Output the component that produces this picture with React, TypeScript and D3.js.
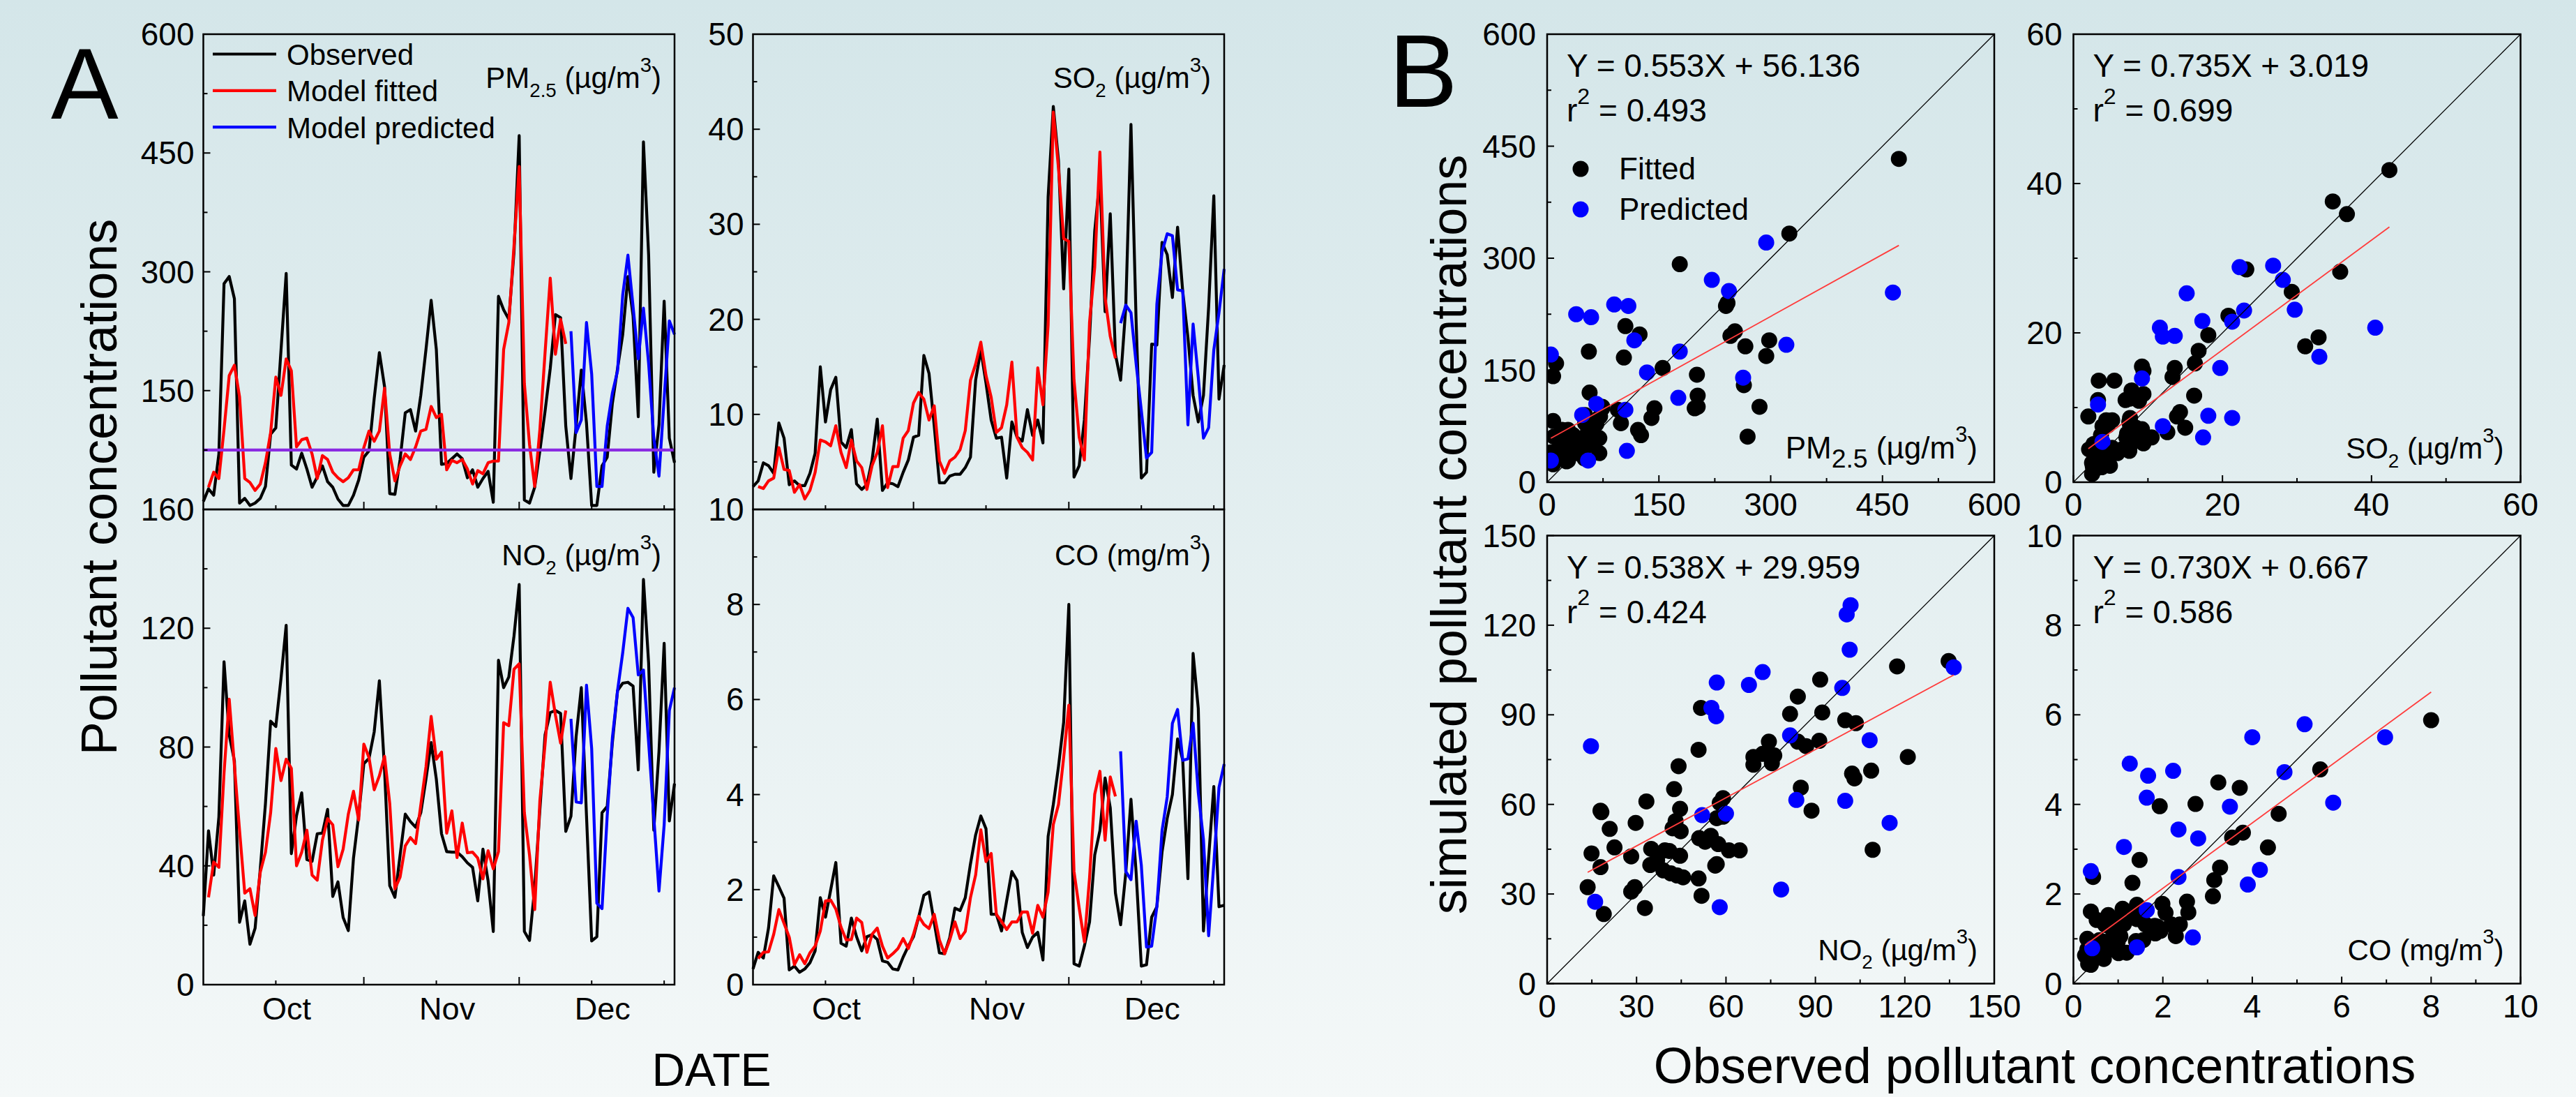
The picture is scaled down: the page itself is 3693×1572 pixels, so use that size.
import React from 'react';
import * as d3 from 'd3';

const W = 3693;
const H = 1572;
const FONT = 'Liberation Sans, Arial, Helvetica, sans-serif';

// ---- time axis (day index, 0 = Oct 1) ----
const monthLabels = ['Oct', 'Nov', 'Dec'];
const monthLabelDays = [16.1, 47.1, 77.1];
const majorTickDays = [31, 61];
const minorTickDays = [14, 45, 75, 89];
const fitStartDay = 1;
const predStartDay = 71;

// ---- data: observed (92 days), model fitted (days 1-70), model predicted (days 71-91) ----
const pm25Obs = [10, 26, 18, 70, 285, 294, 266, 8, 14, 5, 8, 14, 29, 95, 103, 201, 298, 56, 51, 71, 51, 28, 41, 55, 35, 28, 13, 5, 5, 18, 37, 66, 74, 140, 198, 155, 20, 19, 63, 122, 126, 99, 144, 202, 264, 202, 57, 58, 64, 70, 64, 40, 50, 28, 39, 48, 9, 269, 252, 240, 325, 472, 12, 8, 28, 74, 124, 178, 246, 242, 105, 39, 105, 176, 109, 5, 5, 55, 66, 134, 178, 221, 294, 244, 117, 464, 321, 47, 107, 263, 90, 59];
const pm25Fit = [28, 47, 39, 101, 169, 182, 142, 39, 34, 24, 32, 59, 97, 167, 144, 190, 175, 79, 88, 90, 70, 39, 68, 63, 47, 40, 35, 40, 50, 50, 78, 99, 86, 99, 153, 70, 36, 55, 70, 63, 79, 99, 101, 130, 116, 120, 50, 62, 59, 63, 51, 32, 49, 45, 59, 61, 61, 202, 236, 333, 433, 159, 82, 29, 101, 198, 292, 196, 240, 209];
const pm25Pred = [225, 97, 113, 236, 171, 29, 29, 105, 147, 175, 271, 321, 256, 190, 254, 184, 90, 42, 140, 238, 221];

const so2Obs = [2.4, 3.0, 4.9, 4.6, 3.8, 9.1, 7.5, 2.6, 3.0, 2.5, 2.5, 3.8, 5.9, 15.0, 9.2, 12.6, 13.9, 7.1, 6.5, 8.4, 2.7, 2.1, 2.6, 5.2, 9.5, 2.0, 2.8, 2.7, 2.4, 3.9, 5.2, 7.6, 7.8, 16.2, 14.3, 8.8, 2.8, 2.8, 3.5, 3.7, 3.7, 4.4, 5.5, 13.6, 16.8, 13.3, 9.4, 7.5, 7.6, 3.3, 9.2, 7.6, 7.2, 10.5, 7.8, 9.4, 7.0, 32.9, 42.4, 36.7, 23.2, 35.8, 3.4, 4.6, 9.4, 18.1, 29.3, 34.8, 20.8, 31.1, 16.3, 13.6, 21.3, 40.5, 19.7, 3.3, 3.9, 17.4, 17.3, 28.1, 26.8, 22.3, 29.7, 22.9, 18.1, 12.0, 9.2, 12.0, 21.3, 33.0, 11.6, 15.2];
const so2Fit = [2.4, 2.2, 3.0, 3.3, 6.5, 4.2, 4.1, 1.8, 2.6, 1.1, 2.0, 3.9, 7.3, 7.1, 6.7, 8.8, 6.0, 4.4, 7.3, 5.1, 4.4, 2.1, 4.6, 6.0, 8.8, 2.3, 4.5, 4.5, 7.5, 8.3, 11.2, 12.3, 11.6, 9.4, 10.9, 5.1, 3.8, 5.1, 5.5, 6.3, 8.3, 13.6, 15.3, 17.6, 14.1, 11.8, 8.1, 8.6, 11.0, 15.5, 7.6, 6.5, 6.0, 5.2, 14.9, 11.0, 19.4, 41.8, 35.9, 28.5, 28.2, 13.6, 7.6, 5.2, 19.7, 25.5, 37.6, 22.3, 18.2, 15.9];
const so2Pred = [19.6, 21.5, 20.7, 15.3, 10.4, 5.4, 6.0, 21.6, 27.1, 29.0, 28.8, 23.1, 23.0, 8.9, 19.5, 13.9, 7.5, 8.6, 16.8, 20.7, 25.3];

const no2Obs = [23.1, 51.8, 36.9, 56.4, 108.7, 84.1, 75.4, 21.0, 28.2, 13.6, 19.0, 39.0, 61.0, 88.7, 86.9, 103.1, 121.0, 44.1, 56.9, 64.6, 42.1, 41.5, 50.8, 51.0, 59.0, 29.7, 34.6, 22.6, 18.2, 42.6, 56.9, 74.4, 76.2, 85.1, 102.3, 72.3, 33.3, 29.4, 43.6, 57.4, 54.9, 53.0, 57.9, 69.2, 81.5, 69.2, 50.8, 44.8, 44.6, 44.6, 43.1, 41.0, 39.5, 28.2, 45.6, 34.9, 17.9, 109.2, 100.0, 103.6, 117.4, 134.7, 17.9, 14.9, 32.8, 59.0, 84.1, 91.6, 92.3, 91.3, 51.6, 56.7, 83.6, 100.0, 56.9, 14.7, 16.1, 57.9, 60.0, 81.5, 99.0, 101.5, 101.8, 100.5, 72.3, 136.4, 108.2, 52.0, 78.5, 114.9, 55.1, 67.7];
const no2Fit = [29.4, 41.3, 39.5, 71.3, 96.1, 73.8, 51.8, 30.8, 32.3, 23.3, 37.9, 44.6, 57.9, 79.5, 68.7, 75.9, 72.8, 40.0, 44.6, 52.0, 36.9, 35.2, 48.7, 55.9, 53.8, 39.7, 45.6, 57.4, 65.1, 55.4, 81.0, 76.4, 65.6, 70.3, 76.9, 61.0, 32.3, 36.2, 46.7, 49.5, 47.5, 60.5, 73.3, 90.3, 75.9, 78.3, 51.0, 58.5, 42.8, 54.4, 44.4, 44.6, 42.6, 35.6, 45.1, 39.0, 44.8, 88.2, 87.2, 106.2, 108.0, 57.9, 43.6, 25.3, 62.1, 81.0, 101.8, 90.8, 81.3, 92.3];
const no2Pred = [89.5, 61.5, 61.2, 100.8, 79.5, 27.4, 25.6, 56.9, 83.1, 99.0, 111.8, 126.7, 123.6, 104.3, 105.9, 81.5, 56.4, 31.5, 53.8, 92.3, 100.0];

const coObs = [0.33, 0.68, 0.56, 1.19, 2.29, 2.06, 1.82, 0.31, 0.39, 0.26, 0.33, 0.46, 0.71, 1.83, 1.42, 1.99, 2.57, 0.87, 0.81, 1.40, 1.01, 0.71, 1.01, 1.05, 0.95, 0.50, 0.47, 0.33, 0.31, 0.58, 0.81, 1.01, 1.42, 1.88, 1.95, 1.31, 0.67, 0.65, 0.99, 1.61, 1.56, 1.83, 2.54, 3.15, 3.55, 3.28, 1.48, 1.48, 1.13, 1.77, 2.38, 2.19, 1.10, 0.78, 1.00, 1.10, 0.52, 3.12, 3.79, 4.59, 5.52, 8.0, 0.44, 0.39, 0.81, 1.32, 2.73, 3.24, 4.35, 3.72, 1.93, 1.26, 2.35, 3.90, 2.35, 0.39, 0.42, 1.42, 1.64, 2.79, 3.50, 4.00, 5.17, 4.72, 2.23, 6.97, 5.81, 1.13, 2.67, 4.17, 1.64, 1.67];
const coFit = [0.55, 0.68, 0.69, 1.06, 1.58, 1.29, 1.00, 0.42, 0.63, 0.44, 0.67, 0.81, 1.13, 1.76, 1.78, 1.59, 1.21, 0.94, 0.95, 1.40, 1.31, 0.68, 1.06, 1.19, 0.81, 0.56, 0.65, 0.76, 0.97, 0.76, 1.06, 1.44, 1.27, 1.18, 1.48, 0.94, 0.65, 0.94, 1.32, 0.97, 1.12, 1.83, 2.31, 3.26, 2.59, 2.76, 1.48, 1.33, 1.16, 1.32, 1.32, 1.53, 1.53, 1.08, 1.67, 1.42, 1.95, 3.37, 3.79, 4.78, 5.88, 2.38, 1.61, 0.90, 2.25, 4.01, 4.49, 3.04, 4.37, 3.96];
const coPred = [4.91, 2.38, 2.21, 3.44, 2.51, 0.79, 0.81, 1.64, 3.24, 3.95, 5.50, 5.79, 4.72, 4.75, 5.50, 4.04, 3.05, 1.03, 2.54, 4.15, 4.64];

// PM2.5 standard line
const pm25Standard = 75;

// regression results (panel B)
const regSlopes = [0.553, 0.735, 0.538, 0.730];
const regIntercepts = [56.136, 3.019, 29.959, 0.667];
const regR2 = ['0.493', '0.699', '0.424', '0.586'];
const regSlopeLabels = ['0.553', '0.735', '0.538', '0.730'];
const regInterceptLabels = ['56.136', '3.019', '29.959', '0.667'];

// axis settings
const axisMax = [600, 50, 160, 10];
const scatterMax = [600, 60, 150, 10];
const tsMajor = [150, 10, 40, 2];
const tsMinor = [75, 5, 20, 1];
const scMajor = [150, 20, 30, 2];
const scMinor = [75, 10, 15, 1];

type Part = [string, 'n' | 'sub' | 'sup'];
const titles: Part[][] = [
  [['PM', 'n'], ['2.5', 'sub'], [' (µg/m', 'n'], ['3', 'sup'], [')', 'n']],
  [['SO', 'n'], ['2', 'sub'], [' (µg/m', 'n'], ['3', 'sup'], [')', 'n']],
  [['NO', 'n'], ['2', 'sub'], [' (µg/m', 'n'], ['3', 'sup'], [')', 'n']],
  [['CO (mg/m', 'n'], ['3', 'sup'], [')', 'n']],
];

const series = [
  { obs: pm25Obs, fit: pm25Fit, pred: pm25Pred },
  { obs: so2Obs, fit: so2Fit, pred: so2Pred },
  { obs: no2Obs, fit: no2Fit, pred: no2Pred },
  { obs: coObs, fit: coFit, pred: coPred },
];

function RichText({ x, y, size, anchor, parts, subScale = 0.66 }: any) {
  let cur = 0;
  const elems = parts.map(([t, k]: Part, i: number) => {
    const target = k === 'sub' ? size * 0.3 : k === 'sup' ? -size * 0.55 : 0;
    const dy = target - cur;
    cur = target;
    const fs = k === 'n' ? size : size * (k === 'sub' ? subScale : 0.7);
    return (
      <tspan key={i} dy={dy} fontSize={fs}>
        {t}
      </tspan>
    );
  });
  return (
    <text x={x} y={y} textAnchor={anchor} fontSize={size} fontFamily={FONT} fill="#000">
      {elems}
    </text>
  );
}

// layout
const tsLeft = [291.5, 1079.5];
const tsTop = [49, 730];
const tsW = 675.5;
const tsH = 681;
const scLeft = [2218, 2972.5];
const scTop = [49, 767.5];
const scW = 641;
const scH = 642;
const LW = 4.2;

function TimePanel({ idx }: { idx: number }) {
  const col = idx % 2;
  const row = Math.floor(idx / 2);
  const x0 = tsLeft[col];
  const y0 = tsTop[row];
  const x = d3.scaleLinear().domain([0, 91]).range([x0, x0 + tsW]);
  const y = d3.scaleLinear().domain([0, axisMax[idx]]).range([y0 + tsH, y0]);
  const s = series[idx];
  const line = d3
    .line<[number, number]>()
    .x((d) => x(d[0]))
    .y((d) => y(d[1]));
  const obsPts = s.obs.map((v, i) => [i, v] as [number, number]);
  const fitPts = s.fit.map((v, i) => [i + fitStartDay, v] as [number, number]);
  const predPts = s.pred.map((v, i) => [i + predStartDay, v] as [number, number]);
  const ticks = d3.range(0, axisMax[idx] + 1e-9, tsMinor[idx]);
  const isMajor = (t: number) => Math.abs(t / tsMajor[idx] - Math.round(t / tsMajor[idx])) < 1e-6;
  return (
    <g>
      <path d={line(obsPts) || ''} fill="none" stroke="#000" strokeWidth={LW} strokeLinejoin="round" />
      <path d={line(fitPts) || ''} fill="none" stroke="#ff0000" strokeWidth={LW} strokeLinejoin="round" />
      <path d={line(predPts) || ''} fill="none" stroke="#0000ff" strokeWidth={LW} strokeLinejoin="round" />
      {idx === 0 && (
        <line x1={x0} x2={x0 + tsW} y1={y(pm25Standard)} y2={y(pm25Standard)} stroke="#8a2be2" strokeWidth={LW} />
      )}
      <rect x={x0} y={y0} width={tsW} height={tsH} fill="none" stroke="#000" strokeWidth={2.5} />
      {ticks.map((t) => (
        <line key={'yt' + t} x1={x0} x2={x0 + (isMajor(t) ? 10 : 6)} y1={y(t)} y2={y(t)} stroke="#000" strokeWidth={2} />
      ))}
      {ticks
        .filter((t) => isMajor(t) && !(row === 0 && t === 0))
        .map((t) => (
          <text key={'yl' + t} x={x0 - 13} y={y(t) + 16} textAnchor="end" fontSize={46} fontFamily={FONT}>
            {t}
          </text>
        ))}
      {majorTickDays.map((d) => (
        <line key={'xM' + d} x1={x(d)} x2={x(d)} y1={y0 + tsH} y2={y0 + tsH - 11} stroke="#000" strokeWidth={2} />
      ))}
      {minorTickDays.map((d) => (
        <line key={'xm' + d} x1={x(d)} x2={x(d)} y1={y0 + tsH} y2={y0 + tsH - 6} stroke="#000" strokeWidth={2} />
      ))}
      {row === 1 &&
        monthLabels.map((m, i) => (
          <text key={m} x={x(monthLabelDays[i])} y={y0 + tsH + 50} textAnchor="middle" fontSize={45} fontFamily={FONT}>
            {m}
          </text>
        ))}
      <RichText x={x0 + tsW - 19} y={y0 + (row === 0 ? 77 : 80)} size={42} anchor="end" parts={titles[idx]} />
    </g>
  );
}

function ScatterPanel({ idx }: { idx: number }) {
  const col = idx % 2;
  const row = Math.floor(idx / 2);
  const x0 = scLeft[col];
  const y0 = scTop[row];
  const m = scatterMax[idx];
  const x = d3.scaleLinear().domain([0, m]).range([x0, x0 + scW]);
  const y = d3.scaleLinear().domain([0, m]).range([y0 + scH, y0]);
  const s = series[idx];
  const fitPairs = s.fit.map((v, i) => [s.obs[i + fitStartDay], v]);
  const predPairs = s.pred.map((v, i) => [s.obs[i + predStartDay], v]);
  const allObs = [...fitPairs, ...predPairs].map((p) => p[0]);
  const [xmin, xmax] = d3.extent(allObs) as [number, number];
  const ticks = d3.range(0, m + 1e-9, scMinor[idx]);
  const isMajor = (t: number) => Math.abs(t / scMajor[idx] - Math.round(t / scMajor[idx])) < 1e-6;
  const clipId = 'clip' + idx;
  return (
    <g>
      <defs>
        <clipPath id={clipId}>
          <rect x={x0} y={y0} width={scW} height={scH} />
        </clipPath>
      </defs>
      <g clipPath={`url(#${clipId})`}>
        {fitPairs.map((p, i) => (
          <circle key={'f' + i} cx={x(p[0])} cy={y(p[1])} r={11.5} fill="#000" />
        ))}
        {predPairs.map((p, i) => (
          <circle key={'p' + i} cx={x(p[0])} cy={y(p[1])} r={11.5} fill="#0000ff" />
        ))}
        <line x1={x(0)} y1={y(0)} x2={x(m)} y2={y(m)} stroke="#000" strokeWidth={1.3} />
        <line
          x1={x(xmin)}
          y1={y(regSlopes[idx] * xmin + regIntercepts[idx])}
          x2={x(xmax)}
          y2={y(regSlopes[idx] * xmax + regIntercepts[idx])}
          stroke="#ff3b3b"
          strokeWidth={1.8}
        />
      </g>
      <rect x={x0} y={y0} width={scW} height={scH} fill="none" stroke="#000" strokeWidth={2.5} />
      {ticks.map((t) => (
        <g key={'t' + t}>
          <line x1={x0} x2={x0 + (isMajor(t) ? 10 : 6)} y1={y(t)} y2={y(t)} stroke="#000" strokeWidth={2} />
          <line x1={x(t)} x2={x(t)} y1={y0 + scH} y2={y0 + scH - (isMajor(t) ? 10 : 6)} stroke="#000" strokeWidth={2} />
        </g>
      ))}
      {ticks.filter(isMajor).map((t) => (
        <g key={'l' + t}>
          <text x={x0 - 16} y={y(t) + 16} textAnchor="end" fontSize={46} fontFamily={FONT}>
            {t}
          </text>
          <text x={x(t)} y={y0 + scH + 48} textAnchor="middle" fontSize={46} fontFamily={FONT}>
            {t}
          </text>
        </g>
      ))}
      <text x={x0 + 28} y={y0 + 61} fontSize={46} fontFamily={FONT}>
        {`Y = ${regSlopeLabels[idx]}X + ${regInterceptLabels[idx]}`}
      </text>
      <RichText
        x={x0 + 28}
        y={y0 + 125}
        size={46}
        anchor="start"
        parts={[['r', 'n'], ['2', 'sup'], [' = ' + regR2[idx], 'n']]}
      />
      <RichText
        x={x0 + scW - 24}
        y={y0 + scH - 34}
        size={idx === 0 ? 44 : 42}
        anchor="end"
        subScale={idx === 0 ? 0.85 : 0.66}
        parts={titles[idx]}
      />
      {idx === 0 && (
        <g>
          <circle cx={2266} cy={242} r={11.5} fill="#000" />
          <text x={2321} y={257} fontSize={44} fontFamily={FONT}>
            Fitted
          </text>
          <circle cx={2266} cy={300} r={11.5} fill="#0000ff" />
          <text x={2321} y={315} fontSize={44} fontFamily={FONT}>
            Predicted
          </text>
        </g>
      )}
    </g>
  );
}

const legendLabels = ['Observed', 'Model fitted', 'Model predicted'];
const legendColors = ['#000000', '#ff0000', '#0000ff'];

export default function App() {
  return (
    <div style={{ position: 'absolute', left: 0, top: 0 }}>
      <svg width={W} height={H} style={{ display: 'block' }}>
        <defs>
          <linearGradient id="bg" x1="0" y1="0" x2="0" y2="1">
            <stop offset="0" stopColor="#d4e6e9" />
            <stop offset="1" stopColor="#f4f8f8" />
          </linearGradient>
        </defs>
        <rect x={0} y={0} width={W} height={H} fill="url(#bg)" />
        {[0, 1, 2, 3].map((i) => (
          <TimePanel key={'ts' + i} idx={i} />
        ))}
        {[0, 1, 2, 3].map((i) => (
          <ScatterPanel key={'sc' + i} idx={i} />
        ))}
        {/* legend of panel A */}
        {legendLabels.map((l, i) => (
          <g key={l}>
            <line x1={305} x2={396} y1={77.5 + i * 52.3} y2={77.5 + i * 52.3} stroke={legendColors[i]} strokeWidth={LW} />
            <text x={411} y={93 + i * 52.3} fontSize={42} fontFamily={FONT}>
              {l}
            </text>
          </g>
        ))}
        <text x={73} y={170} fontSize={145} fontFamily={FONT}>
          A
        </text>
        <text x={1991} y={153} fontSize={148} fontFamily={FONT}>
          B
        </text>
        <text transform="translate(167,698) rotate(-90)" textAnchor="middle" fontSize={72} fontFamily={FONT}>
          Pollutant concentrations
        </text>
        <text transform="translate(2102,766) rotate(-90)" textAnchor="middle" fontSize={72} fontFamily={FONT}>
          simulated pollutant concentrations
        </text>
        <text x={1020} y={1556} textAnchor="middle" fontSize={66} fontFamily={FONT}>
          DATE
        </text>
        <text x={2917} y={1552} textAnchor="middle" fontSize={72} fontFamily={FONT}>
          Observed pollutant concentrations
        </text>
      </svg>
    </div>
  );
}
